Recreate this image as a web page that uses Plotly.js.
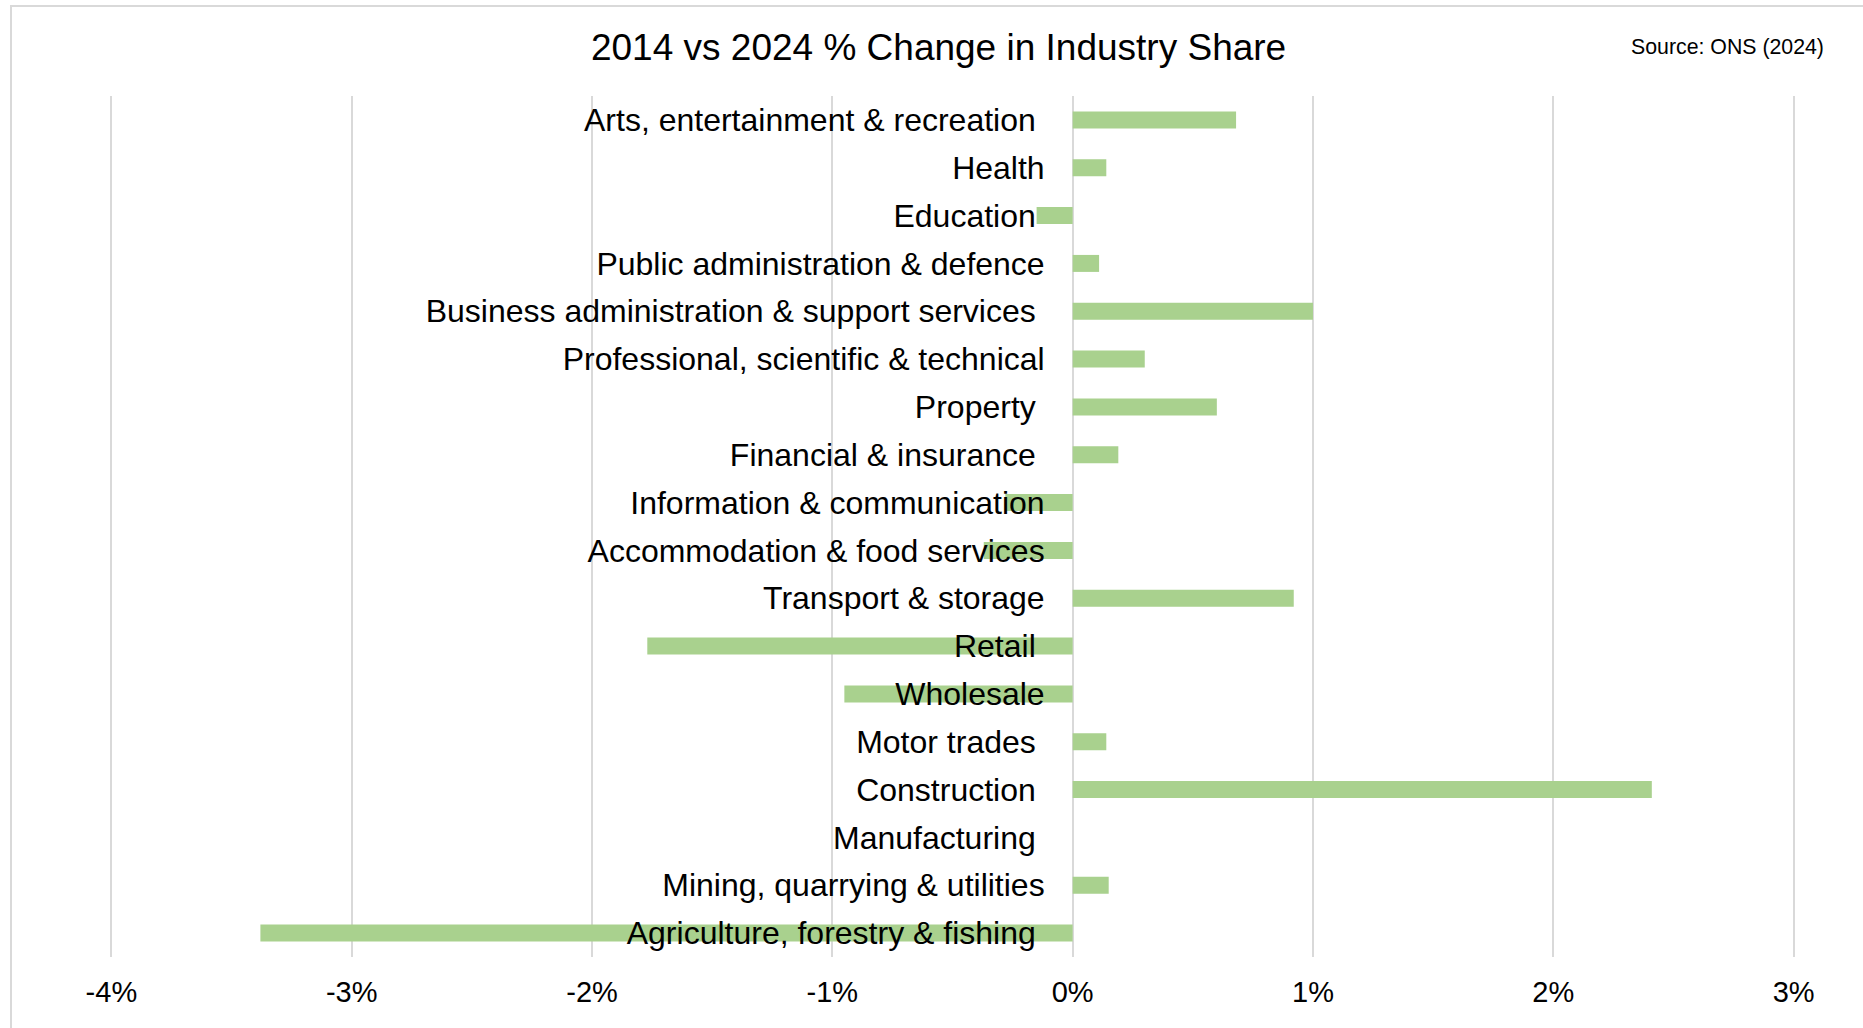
<!DOCTYPE html>
<html><head><meta charset="utf-8">
<script src="https://cdn.plot.ly/plotly-3.0.1.min.js"></script>
<style>
html,body{margin:0;padding:0;background:#fff;overflow:hidden}
#frame{position:absolute;left:10px;top:5px;width:1900px;height:1100px;border:2px solid #d9d9d9;box-sizing:border-box}
#chart{position:absolute;left:0;top:0;width:1863px;height:1028px}
</style></head><body>
<div id="frame"></div>
<div id="chart"></div>
<script>
// Categories (top to bottom)
const industries = [
  'Arts, entertainment & recreation',
  'Health',
  'Education',
  'Public administration & defence',
  'Business administration & support services',
  'Professional, scientific & technical',
  'Property',
  'Financial & insurance',
  'Information & communication',
  'Accommodation & food services',
  'Transport & storage',
  'Retail',
  'Wholesale',
  'Motor trades',
  'Construction',
  'Manufacturing',
  'Mining, quarrying & utilities',
  'Agriculture, forestry & fishing'
];
// Category tick labels as they appear (some carry a trailing space)
const industryLabels = [
  'Arts, entertainment & recreation\u00a0',
  'Health',
  'Education\u00a0',
  'Public administration & defence',
  'Business administration & support services\u00a0',
  'Professional, scientific & technical',
  'Property\u00a0',
  'Financial & insurance\u00a0',
  'Information & communication',
  'Accommodation & food services',
  'Transport & storage',
  'Retail\u00a0',
  'Wholesale',
  'Motor trades\u00a0',
  'Construction\u00a0',
  'Manufacturing\u00a0',
  'Mining, quarrying & utilities',
  'Agriculture, forestry & fishing\u00a0'
];
// % point change in industry share, 2014 vs 2024
const changePct = [0.68, 0.14, -0.15, 0.11, 1.00, 0.30, 0.60, 0.19, -0.28, -0.37, 0.92, -1.77, -0.95, 0.14, 2.41, 0.00, 0.15, -3.38];
// X axis ticks
const xTickVals = [-4, -3, -2, -1, 0, 1, 2, 3];
const xTickText = ['-4%', '-3%', '-2%', '-1%', '0%', '1%', '2%', '3%'];
const chartTitle = '2014 vs 2024 % Change in Industry Share';
const sourceNote = 'Source: ONS (2024)';

const FONT = 'Liberation Sans, Arial, Helvetica, sans-serif';
const EPS = 0.01; // small padding so the edge gridlines are drawn
const xMin = xTickVals[0] - EPS, xMax = xTickVals[xTickVals.length - 1] + EPS;

const trace = {
  type: 'bar',
  orientation: 'h',
  y: industries,
  x: changePct,
  marker: {color: '#a9d18e', line: {width: 0}},
  hoverinfo: 'x+y'
};

const M = {l: 109, r: 67, t: 96, b: 71};
const W = 1863, H = 1028;

const layout = {
  width: W, height: H,
  paper_bgcolor: 'rgba(0,0,0,0)',
  plot_bgcolor: 'rgba(0,0,0,0)',
  margin: {l: M.l, r: M.r, t: M.t, b: M.b, pad: 0},
  font: {family: FONT, color: '#000'},
  showlegend: false,
  bargap: 0.645,
  title: {
    text: chartTitle,
    font: {family: FONT, size: 37, color: '#000'},
    xref: 'container', x: 0.5038, xanchor: 'center',
    yref: 'container', y: 1 - 47.5 / H, yanchor: 'middle'
  },
  xaxis: {
    range: [xMin, xMax],
    tickvals: xTickVals,
    ticktext: xTickText,
    showgrid: true, gridcolor: '#d9d9d9', gridwidth: 2,
    zeroline: true, zerolinecolor: '#d9d9d9', zerolinewidth: 2,
    showline: false,
    ticks: '',
    ticklabelstandoff: 15,
    tickfont: {family: FONT, size: 29, color: '#000'},
    fixedrange: true
  },
  yaxis: {
    type: 'category',
    categoryorder: 'array',
    categoryarray: industries,
    tickvals: industries,
    ticktext: industryLabels,
    autorange: 'reversed',
    anchor: 'free',
    position: (0 - xMin) / (xMax - xMin),
    side: 'left',
    automargin: false,
    showgrid: false, zeroline: false, showline: false,
    ticks: '',
    ticklabelstandoff: 28,
    tickfont: {family: FONT, size: 32, color: '#000'},
    fixedrange: true
  },
  annotations: [{
    text: sourceNote,
    xref: 'paper', yref: 'paper',
    x: (1826 - M.l) / (W - M.l - M.r), xanchor: 'right',
    y: (H - M.b - 47.5) / (H - M.b - M.t), yanchor: 'middle',
    showarrow: false,
    font: {family: FONT, size: 21.3, color: '#000'}
  }]
};

Plotly.newPlot('chart', [trace], layout, {displayModeBar: false, responsive: false});
</script>
</body></html>
